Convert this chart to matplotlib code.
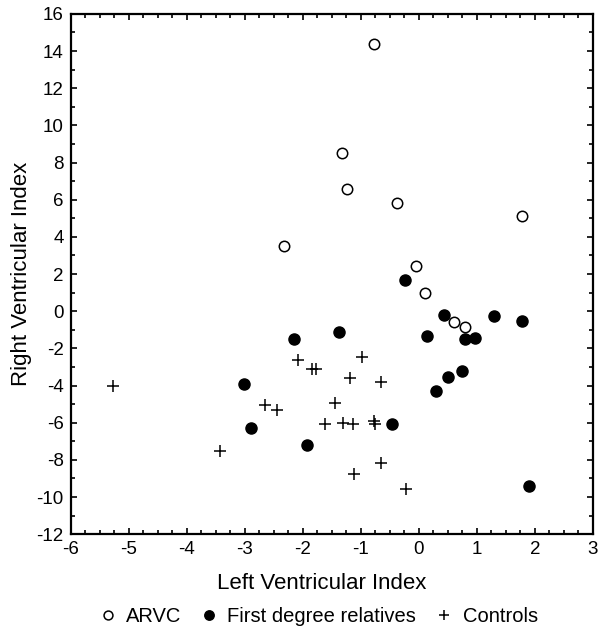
import matplotlib.pyplot as plt
from matplotlib.ticker import MultipleLocator

plt.rcParams['font.family'] = ['Liberation Sans', 'DejaVu Sans']
plt.rcParams['axes.unicode_minus'] = False

# ARVC patients
arvc_x = [-0.78, -1.32, -1.23, -0.38, 1.78, -2.32, -0.04, 0.11, 0.60, 0.79]
arvc_y = [14.39, 8.5, 6.55, 5.8, 5.15, 3.5, 2.45, 1.0, -0.57, -0.84]

# first degree relatives
fdr_x = [-0.23, 0.44, 1.30, 1.78, -2.16, -1.37, 0.14, 0.80, 0.97,
         0.75, 0.50, 0.30, -3.02, -2.90, -1.93, -0.47, 1.90]
fdr_y = [1.7, -0.18, -0.27, -0.55, -1.52, -1.13, -1.32, -1.52, -1.43,
         -3.21, -3.52, -4.27, -3.89, -6.27, -7.21, -6.07, -9.41]

# controls
ctrl_x = [-5.27, -3.43, -2.66, -2.44, -2.08, -1.85, -1.78, -0.98, -1.19, -0.65,
          -1.44, -1.61, -1.31, -1.13, -0.78, -0.75, -0.65, -1.11, -0.22]
ctrl_y = [-4.0, -7.5, -5.02, -5.3, -2.64, -3.13, -3.13, -2.46, -3.61, -3.79,
          -4.95, -6.07, -6.0, -6.08, -5.93, -6.07, -8.16, -8.75, -9.59]

fig = plt.figure(figsize=(6, 6.3), dpi=100)
ax = fig.add_axes([0.118, 0.152, 0.87, 0.826])

ax.plot(arvc_x, arvc_y, 'o', markersize=7.5, markerfacecolor='white',
        markeredgecolor='black', markeredgewidth=1.1, label='ARVC')
ax.plot(fdr_x, fdr_y, 'o', markersize=8, color='black',
        label='First degree relatives')
ax.plot(ctrl_x, ctrl_y, '+', markersize=9, markeredgewidth=1.1,
        color='black', label='Controls')

ax.set_xlim(-6, 3)
ax.set_ylim(-12, 16)
ax.xaxis.set_major_locator(MultipleLocator(1))
ax.xaxis.set_minor_locator(MultipleLocator(0.25))
ax.yaxis.set_major_locator(MultipleLocator(2))
ax.yaxis.set_minor_locator(MultipleLocator(1))

ax.tick_params(which='both', direction='in', top=True, right=True,
               width=1.2, labelsize=13.5)
ax.tick_params(which='major', length=4.5, pad=5)
ax.tick_params(which='minor', length=3)

for side in ax.spines.values():
    side.set_linewidth(1.6)

ax.set_xlabel('Left Ventricular Index', fontsize=16, labelpad=11, x=0.481)
ax.set_ylabel('Right Ventricular Index', fontsize=16, labelpad=3)

fig.legend(loc='center', bbox_to_anchor=(0.531, 0.021), ncol=3,
           frameon=False, fontsize=14.5, markerscale=0.85,
           handlelength=0.8, handletextpad=0.5, columnspacing=1.0)

fig.savefig('out.png', dpi=100)
